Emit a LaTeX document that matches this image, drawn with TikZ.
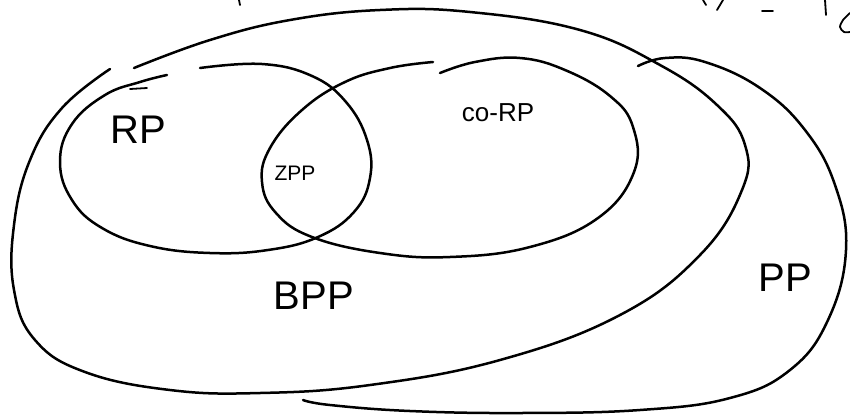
\documentclass[tikz,border=0pt]{standalone}
\usepackage{fontspec}
\setmainfont{Liberation Sans}
\begin{document}
\begin{tikzpicture}[x=1pt,y=-1pt,
  pen/.style={line width=2.5pt, line cap=round, line join=round, black},
  thin pen/.style={line width=1.8pt, line cap=round, black},
  lbl/.style={inner sep=0pt, font=\fontsize{#1}{#1}\selectfont}]
\useasboundingbox (0,0) rectangle (850,416);
% BPP outer
\draw[pen] plot[smooth, tension=0.7] coordinates {(110,69) (62,108) (30,160) (14,225) (14,290) (35,340) (85,372) (170,390) (260,393) (370,385) (500,360) (620,315) (700,255) (742,190) (745,145) (717,105) (660,65) (580,30) (470,12) (380,10) (290,20) (210,40) (134,68)};
% PP
\draw[pen] plot[smooth, tension=0.7] coordinates {(638,66) (665,58) (705,62) (760,88) (805,130) (835,185) (846,250) (828,320) (790,370) (730,398) (640,410) (520,413) (410,411) (330,405) (303,400)};
% RP
\draw[pen] plot[smooth, tension=0.7] coordinates {(200,68) (262,64) (312,76) (346,102) (367,140) (370,178) (354,212) (318,237) (268,250) (210,253) (150,246) (102,228) (72,200) (60,162) (72,124) (105,95) (140,82) (167,75)};
% co-RP
\draw[pen] plot[smooth, tension=0.7] coordinates {(433,62) (390,68) (345,82) (302,110) (270,148) (262,182) (276,213) (312,237) (380,253) (450,257) (530,247) (598,218) (634,172) (633,127) (610,96) (565,70) (520,58) (475,62) (440,73)};
% small stroke near top-left
\draw[thin pen] (130,89) -- (147,88);
% top cut-off fragments
\draw[thin pen] (239,0) -- (240,5);
\draw[thin pen] (703,0) -- (706,5);
\draw[thin pen] (723,0) -- (717,10);
\draw[thin pen] (762,11) -- (773,11);
\draw[thin pen] (825,0) -- (826,15);
\draw[thin pen] plot[smooth] coordinates {(850,13) (843,20) (840,27) (844,32) (850,32)};
% labels
\node[lbl=40] (rp) at (138,130) {RP};
\node[lbl=21] (zpp) at (295,173) {ZPP};
\node[lbl=26] (corp) at (498,113) {co-RP};
\node[lbl=40] (bpp) at (314,296) {BPP};
\node[lbl=40] (pp) at (785,278) {PP};
\end{tikzpicture}
\end{document}
